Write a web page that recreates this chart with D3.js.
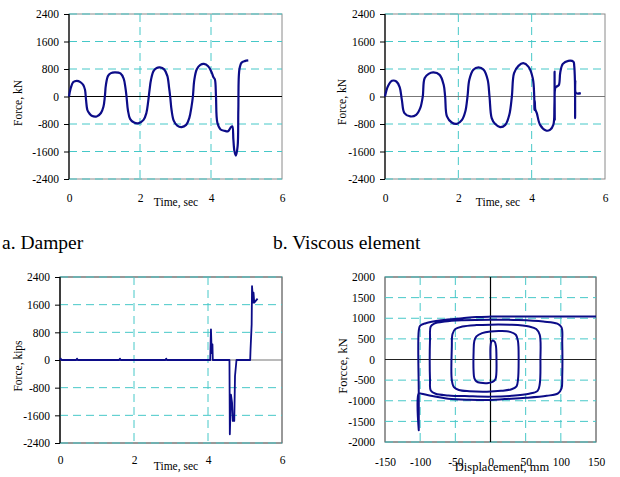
<!DOCTYPE html>
<html>
<head>
<meta charset="utf-8">
<script src="https://cdn.jsdelivr.net/npm/d3@7"></script>
<style>
    body { margin: 0; background: #fff; }
</style>
</head>
<body>
<div id="chart"></div>
<script>

// ---- data ----

// a. Damper, force (kN) vs time (sec)
const damperTime = [0, 0.05, 0.12, 0.22, 0.32, 0.4, 0.45, 0.48, 0.52, 0.58, 0.64, 0.78, 0.9, 0.97, 1.01, 1.04, 1.1, 1.18, 1.3, 1.45, 1.54, 1.59, 1.62, 1.66, 1.72, 1.82, 1.95, 2.1, 2.18, 2.23, 2.27, 2.31, 2.38, 2.47, 2.56, 2.68, 2.77, 2.82, 2.85, 2.89, 2.95, 3.05, 3.17, 3.3, 3.39, 3.45, 3.49, 3.53, 3.6, 3.7, 3.8, 3.92, 4.02, 4.07, 4.11, 4.14, 4.18, 4.27, 4.39, 4.48, 4.55, 4.6, 4.63, 4.66, 4.7, 4.75, 4.77, 4.8, 4.86, 4.95, 5.05];
const damperForce = [0, 250, 420, 456, 420, 340, 200, -100, -400, -500, -560, -580, -480, -300, 0, 340, 600, 680, 700, 670, 520, 250, 0, -400, -650, -750, -780, -680, -480, -150, 200, 485, 740, 830, 845, 790, 600, 250, 0, -400, -700, -850, -890, -825, -620, -300, 0, 485, 790, 920, 950, 880, 700, 560, 495, 10, -765, -960, -1000, -1010, -910, -865, -1250, -1590, -1720, -1445, -380, 785, 980, 1030, 1050];

// b. Viscous element, force (kN) vs time (sec)
const viscousTime = [0, 0.08, 0.19, 0.31, 0.4, 0.46, 0.53, 0.69, 0.85, 0.96, 1.03, 1.08, 1.19, 1.32, 1.49, 1.6, 1.64, 1.69, 1.82, 1.96, 2.1, 2.19, 2.25, 2.3, 2.41, 2.55, 2.69, 2.8, 2.85, 2.91, 3.0, 3.14, 3.28, 3.39, 3.46, 3.52, 3.64, 3.77, 3.91, 4.03, 4.07, 4.075, 4.085, 4.1, 4.14, 4.23, 4.39, 4.5, 4.59, 4.62, 4.625, 4.63, 4.645, 4.68, 4.74, 4.78, 4.85, 5.0, 5.14, 5.16, 5.18, 5.185, 5.19, 5.21, 5.34];
const viscousForce = [0, 300, 456, 437, 272, -97, -485, -580, -535, -340, 0, 533, 660, 700, 630, 340, 0, -580, -757, -795, -680, -437, 0, 485, 776, 845, 776, 485, 0, -630, -795, -890, -825, -533, 0, 680, 890, 970, 870, 533, 0, -390, -120, -380, -485, -825, -990, -970, -825, -290, 728, -680, 250, 290, 330, 700, 950, 1038, 1010, 900, 450, -630, 450, 100, 100];

// c. Force (kips) vs time (sec)
const kipsTime = [0, 0.02, 0.04, 0.44, 0.46, 0.48, 1.6, 1.62, 1.64, 2.85, 2.87, 2.89, 4.06, 4.08, 4.1, 4.12, 4.13, 4.58, 4.59, 4.62, 4.65, 4.67, 4.71, 4.73, 4.77, 5.14, 5.15, 5.18, 5.19, 5.22, 5.23, 5.25, 5.34];
const kipsForce = [0, 40, 0, 0, 40, 0, 0, 40, 0, 0, 40, 0, 0, 887, 200, 454, 0, 0, -2147, -1000, -1232, -1763, -1763, -462, 0, 0, 309, 1031, 2139, 1658, 1947, 1658, 1774];

// d. Hysteresis, force (kN) vs displacement (mm)
const loopDisp = [0, 0, 1, 3, 6, 7.8, 8.5, 8.3, 7, 3, -5, -14, -20, -23, -24, -24, -23, -20, -12, 0, 15, 28, 36, 39, 40, 39, 37, 30, 15, -5, -30, -45, -52, -55, -55, -54, -50, -40, -20, 0, 30, 55, 65, 70, 71, 70, 67, 55, 30, 0, -30, -60, -78, -85, -86, -86, -85, -80, -65, -40, 0, 40, 75, 95, 101, 102, 102, 101, 96, 80, 50, 20, 0, -30, -60, -85, -98, -102, -102, -102, -102, -100, -92, -70, -40, -20, 0, 50, 100, 150];
const loopForce = [0, 300, 420, 460, 430, 320, 0, -350, -480, -545, -575, -565, -530, -450, -300, 200, 450, 560, 640, 680, 690, 670, 600, 450, 0, -500, -650, -720, -760, -780, -770, -740, -670, -500, 300, 620, 740, 800, 835, 845, 840, 800, 740, 600, 0, -600, -760, -830, -880, -900, -890, -870, -830, -750, -500, 500, 800, 870, 920, 950, 965, 955, 920, 870, 780, 400, -400, -700, -820, -880, -930, -960, -980, -975, -950, -880, -830, -820, -1715, -830, 700, 820, 880, 950, 1000, 1030, 1040, 1045, 1045, 1045];

// ticks
const timeTicks = [0, 2, 4, 6];
const timeForceTicks = [-2400, -1600, -800, 0, 800, 1600, 2400];
const dispTicks = [-150, -100, -50, 0, 50, 100, 150];
const loopForceTicks = [-2000, -1500, -1000, -500, 0, 500, 1000, 1500, 2000];

const captions = ["a. Damper", "b. Viscous element"];

// ---- drawing ----

const serif = '"Liberation Serif", "Times New Roman", Times, serif';

const svg = d3.select("#chart").append("svg")
    .attr("width", 620)
    .attr("height", 477);

const gridColor = "#46c8c8";
const lineColor = "#0c0c88";

function drawPanel(p) {
    let x = d3.scaleLinear().domain(p.xDomain).range([p.left, p.right]);
    let y = d3.scaleLinear().domain(p.yDomain).range([p.bottom, p.top]);
    let g = svg.append("g");

    // border of the plot area
    g.append("rect")
        .attr("x", p.left).attr("y", p.top)
        .attr("width", p.right - p.left).attr("height", p.bottom - p.top)
        .attr("fill", "none")
        .attr("stroke", p.borderColor)
        .attr("stroke-width", 1);

    // dashed grid
    g.selectAll(".gx").data(p.xTicks.filter(d => d !== 0 && d !== p.xDomain[0] && d !== p.xDomain[1]))
        .enter().append("line")
        .attr("x1", d => x(d)).attr("x2", d => x(d))
        .attr("y1", p.top).attr("y2", p.bottom)
        .attr("stroke", gridColor).attr("stroke-dasharray", "8,5");

    g.selectAll(".gy").data(p.yTicks.filter(d => d !== 0))
        .enter().append("line")
        .attr("x1", p.left).attr("x2", p.right)
        .attr("y1", d => y(d)).attr("y2", d => y(d))
        .attr("stroke", gridColor).attr("stroke-dasharray", "8,5");

    // zero lines
    g.append("line")
        .attr("x1", p.left).attr("x2", p.right)
        .attr("y1", y(0)).attr("y2", y(0))
        .attr("stroke", p.zeroColor).attr("stroke-width", 1.2);

    if (p.xZero) {
        g.append("line")
            .attr("x1", x(0)).attr("x2", x(0))
            .attr("y1", p.top).attr("y2", p.bottom)
            .attr("stroke", "#000").attr("stroke-width", 1.2);
    } else {
        g.append("line")
            .attr("x1", p.left).attr("x2", p.left)
            .attr("y1", p.top).attr("y2", p.bottom)
            .attr("stroke", "#000").attr("stroke-width", 1.2);
    }

    // y axis labels
    let yAxis = g.append("g")
        .attr("transform", `translate(${p.left},0)`)
        .call(d3.axisLeft(y).tickValues(p.yTicks).tickFormat(d => String(d))
            .tickSize(p.xZero ? 0 : 5).tickPadding(p.xZero ? 10 : 5));
    yAxis.select(".domain").remove();
    yAxis.attr("font-family", serif).attr("font-size", p.tickFont);
    yAxis.selectAll("line").attr("stroke", "#000");

    // x axis labels, low position
    let xAxis = g.append("g")
        .attr("transform", `translate(0,${p.xLabelY})`)
        .call(d3.axisBottom(x).tickValues(p.xTicks).tickFormat(d => String(d)).tickSize(0));
    xAxis.select(".domain").remove();
    xAxis.attr("font-family", serif).attr("font-size", p.tickFont);
    xAxis.selectAll("text").attr("y", 0).attr("dy", 0);

    // data line
    let pts = p.xs.map((d, i) => [d, p.ys[i]]);
    g.append("path")
        .datum(pts)
        .attr("fill", "none")
        .attr("stroke", lineColor)
        .attr("stroke-width", p.lineWidth)
        .attr("stroke-linejoin", "round")
        .attr("d", d3.line().x(d => x(d[0])).y(d => y(d[1]))
            .curve(p.smooth ? d3.curveCatmullRom.alpha(0.5) : d3.curveLinear));

    // axis titles
    g.append("text")
        .attr("x", p.xTitle[0]).attr("y", p.xTitle[1])
        .attr("text-anchor", "middle")
        .style("font-family", serif)
        .style("font-size", p.titleFont + "px")
        .text(p.xLabel);

    g.append("text")
        .attr("transform", `translate(${p.yTitle[0]},${p.yTitle[1]}) rotate(-90)`)
        .attr("text-anchor", "middle")
        .style("font-family", serif)
        .style("font-size", p.titleFont + "px")
        .text(p.yLabel);
}

drawPanel({
    left: 69, right: 282, top: 14, bottom: 179,
    xDomain: [0, 6], yDomain: [-2400, 2400],
    xTicks: timeTicks, yTicks: timeForceTicks,
    xs: damperTime, ys: damperForce, smooth: true,
    borderColor: "#8a8a8a", zeroColor: "#000",
    xLabelY: 202, tickFont: 11.5, titleFont: 11.5, lineWidth: 2.2,
    xLabel: "Time, sec", xTitle: [176, 206],
    yLabel: "Force, kN", yTitle: [22, 103]
});

drawPanel({
    left: 385, right: 605, top: 14, bottom: 179,
    xDomain: [0, 6], yDomain: [-2400, 2400],
    xTicks: timeTicks, yTicks: timeForceTicks,
    xs: viscousTime, ys: viscousForce, smooth: true,
    borderColor: "#8a8a8a", zeroColor: "#777",
    xLabelY: 202, tickFont: 11.5, titleFont: 11.5, lineWidth: 2.2,
    xLabel: "Time, sec", xTitle: [498, 206],
    yLabel: "Force, kN", yTitle: [346, 102]
});

drawPanel({
    left: 60, right: 282, top: 277, bottom: 443,
    xDomain: [0, 6], yDomain: [-2400, 2400],
    xTicks: timeTicks, yTicks: timeForceTicks,
    xs: kipsTime, ys: kipsForce, smooth: false,
    borderColor: "#333", zeroColor: "#777",
    xLabelY: 464, tickFont: 11.5, titleFont: 11.5, lineWidth: 1.8,
    xLabel: "Time, sec", xTitle: [176, 470],
    yLabel: "Force, kips", yTitle: [22, 366]
});

drawPanel({
    left: 385, right: 596, top: 277, bottom: 442,
    xDomain: [-150, 150], yDomain: [-2000, 2000],
    xTicks: dispTicks, yTicks: loopForceTicks, xZero: true,
    xs: loopDisp, ys: loopForce, smooth: true,
    borderColor: "#333", zeroColor: "#222",
    xLabelY: 466, tickFont: 11.5, titleFont: 12.5, lineWidth: 2,
    xLabel: "Displacement, mm", xTitle: [502, 471],
    yLabel: "Forcce, kN", yTitle: [347, 366]
});

// captions
svg.selectAll(".caption").data(captions).enter().append("text")
    .attr("class", "caption")
    .attr("x", (d, i) => i === 0 ? 2 : 273)
    .attr("y", 249)
    .style("font-family", serif)
    .style("font-size", "19.5px")
    .text(d => d);

</script>
</body>
</html>
